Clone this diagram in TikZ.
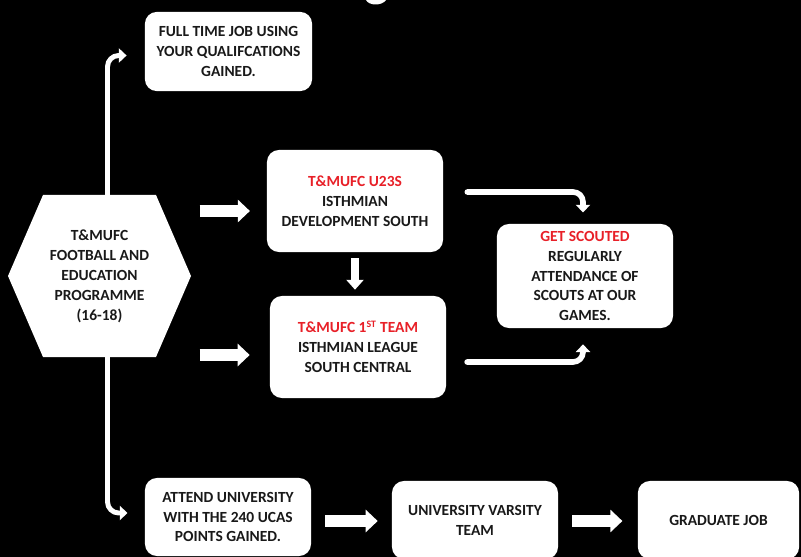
\documentclass[tikz,border=0pt]{standalone}
\usepackage{fontspec}
\setmainfont{Carlito}
\usetikzlibrary{arrows.meta,calc,positioning}
\definecolor{pathred}{RGB}{232,32,40}
\definecolor{boxtext}{RGB}{25,25,25}

\begin{document}
\begin{tikzpicture}[x=0.025cm,y=-0.025cm,line join=round,
 card/.style={fill=white,rounded corners=0.3cm,inner sep=0pt,align=center,
  text=boxtext,font=\bfseries\fontsize{11}{14.2}\selectfont},
 lead/.style={white,line width=3.5pt,line cap=round,rounded corners=0.28cm,
  -{Triangle[length=5.5pt,width=10pt]}},
 block/.style={white,line width=8.5pt,line cap=butt,
  -{Triangle[length=8.5pt,width=15.5pt]}},
 thinblock/.style={white,line width=5.7pt,line cap=butt,
  -{Triangle[length=7pt,width=12pt]}}]
 \useasboundingbox (0,0) rectangle (801,557);
 \fill[black] (0,0) rectangle (801,557);
 \fill[white] (366,0) .. controls (369,6) and (382,6) .. (386,0) -- cycle;
 \fill[white]
  (8,276)--(43,195)--(156,195)--(191,276)--(156,357)--(43,357)--cycle;
 \node[card,fill=none,minimum width=4.55cm,minimum height=4.05cm]
  (prog) at (99.5,276)
  {T\&MUFC\\FOOTBALL AND\\EDUCATION\\PROGRAMME\\(16-18)};
 \node[card,minimum width=4.18cm,minimum height=1.98cm] (job) at (228.5,51.5)
  {FULL TIME JOB USING\\YOUR QUALIFCATIONS\\GAINED.};
 \node[card,minimum width=4.4cm,minimum height=2.55cm] (u23) at (355,201)
  {{\color{pathred}T\&MUFC U23S}\\ISTHMIAN\\DEVELOPMENT SOUTH};
 \node[card,minimum width=4.4cm,minimum height=2.55cm] (first) at (358,347)
  {{\color{pathred}T\&MUFC 1\textsuperscript{\scriptsize ST} TEAM}\\ISTHMIAN LEAGUE\\SOUTH CENTRAL};
 \node[card,minimum width=4.4cm,minimum height=2.6cm] (scout) at (585,276)
  {{\color{pathred}GET SCOUTED}\\REGULARLY\\ATTENDANCE OF\\SCOUTS AT OUR\\GAMES.};
 \node[card,minimum width=4.15cm,minimum height=1.95cm] (uni) at (228,517)
  {ATTEND UNIVERSITY\\WITH THE 240 UCAS\\POINTS GAINED.};
 \node[card,minimum width=4.15cm,minimum height=1.95cm] (varsity) at (475,520)
  {UNIVERSITY VARSITY\\TEAM};
 \node[card,minimum width=4.03cm,minimum height=1.95cm] (grad) at (718.5,520)
  {GRADUATE JOB};
 \draw[lead,shorten >=0.45cm]
  ($(prog.north)+(8,0)$) |- ($(job.west)+(0,4)$);
 \draw[lead,shorten >=0.43cm]
  ($(prog.south)+(8,0)$) |- ($(uni.west)+(0,-4)$);
 \draw[block,shorten <=0.22cm,shorten >=0.42cm]
  ($(prog.east |- u23.west)+(0,10)$) -- ($(u23.west)+(0,10)$);
 \draw[block,shorten <=0.22cm,shorten >=0.5cm]
  ($(prog.east |- first.west)+(0,8)$) -- ($(first.west)+(0,8)$);
 \draw[thinblock,shorten <=0.15cm,shorten >=0.15cm]
  (u23.south) -- (u23.south |- first.north);
 \draw[lead,line width=4pt,rounded corners=0.25cm,shorten <=0.6cm,shorten >=0.28cm]
  ($(u23.east)+(0,-9)$) -| ($(scout.north)+(-2,0)$);
 \draw[lead,line width=4pt,rounded corners=0.25cm,shorten <=0.52cm,shorten >=0.4cm]
  ($(first.east)+(0,15)$) -| ($(scout.south)+(-2,0)$);
 \draw[block,shorten <=0.35cm,shorten >=0.35cm]
  ($(uni.east)+(0,4)$) -- ($(varsity.west |- uni.east)+(0,4)$);
 \draw[block,shorten <=0.35cm,shorten >=0.38cm]
  ($(varsity.east)+(0,1)$) -- ($(grad.west)+(0,1)$);
\end{tikzpicture}
\end{document}
